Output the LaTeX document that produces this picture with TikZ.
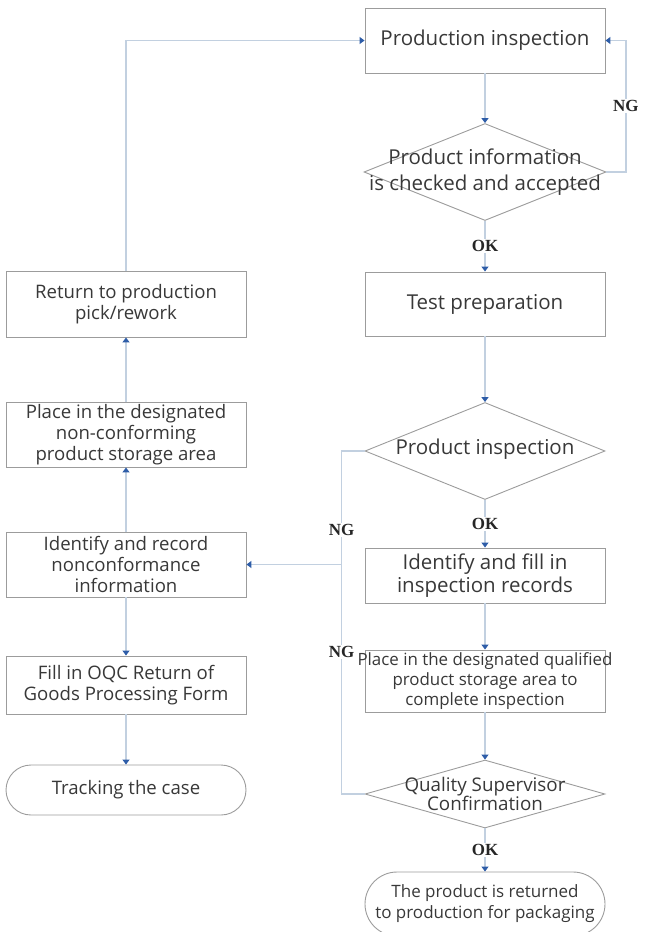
\documentclass[tikz,border=0pt]{standalone}
\usepackage{fontspec}
\setmainfont{Open Sans}
\newfontfamily\tagfont{Liberation Serif}
\usetikzlibrary{arrows.meta,shapes.geometric,shapes.misc,calc,positioning}
\definecolor{linkblue}{HTML}{C2D0E0}
\definecolor{tipblue}{HTML}{2E5DA8}
\definecolor{boxgray}{HTML}{9C9C9C}
\definecolor{txtgray}{HTML}{383838}

\begin{document}
\begin{tikzpicture}[
      box/.style={draw=boxgray,line width=0.9pt,rectangle,minimum width=240pt,text=txtgray,align=center,inner sep=0pt},
      dia/.style={draw=boxgray,line width=0.9pt,diamond,minimum width=242pt,inner sep=0pt},
      term/.style={draw=boxgray,line width=0.9pt,rounded rectangle,minimum width=240pt,text=txtgray,align=center,inner sep=0pt},
      big/.style={font=\fontsize{20.5}{22.5}\selectfont},
      small/.style={font=\fontsize{18.6}{21}\selectfont},
      link/.style={draw=linkblue,line width=1.4pt},
      arr/.style={-{Triangle[length=5pt,width=7pt,color=tipblue]}},
      tag/.style={fill=white,inner sep=1.5pt,text=black!85,font=\tagfont\bfseries\fontsize{17}{19}\selectfont}]
    \useasboundingbox (0,0) rectangle (645pt,-932pt);

    % right column
    \node[box,big,minimum height=65pt] (pi) at (485pt,-40.5pt) {Production inspection};
    \node[dia,minimum height=97pt,below of=pi,node distance=131.5pt,
          label={[name=d1t,text=txtgray,align=center,font=\fontsize{20.5}{26}\selectfont]center:Product information\\is checked and accepted}] (d1) {};
    \node[box,big,minimum height=64pt,below of=d1,node distance=132pt] (tp) {Test preparation};
    \node[dia,minimum height=97pt,minimum width=240pt,below of=tp,node distance=147pt,
          label={[name=d2t,text=txtgray,font=\fontsize{20.5}{23}\selectfont,yshift=2pt]center:Product inspection}] (d2) {};
    \node[box,big,minimum height=55pt,below of=d2,node distance=124.5pt] (idf) {Identify and fill in\\inspection records};
    \node[box,minimum height=62pt,below of=idf,node distance=105.5pt,
          label={[name=pqt,text=txtgray,align=center,font=\fontsize{16.9}{20}\selectfont]center:Place in the designated qualified\\product storage area to\\complete inspection}] (pq) {};
    \node[dia,minimum height=68pt,minimum width=240pt,below of=pq,node distance=113pt,
          label={[name=d3t,text=txtgray,align=center,font=\fontsize{18.8}{19.5}\selectfont]center:Quality Supervisor\\Confirmation}] (d3) {};
    \node[term,font=\fontsize{17}{21}\selectfont,minimum height=64pt,below of=d3,node distance=110pt] (en) {The product is returned\\to production for packaging};

    % left column
    \node[box,small,minimum height=66pt,left of=tp,node distance=359pt] (rp) {Return to production\\pick/rework};
    \node[box,small,minimum height=65pt,below of=rp,node distance=130.5pt] (pn) {Place in the designated\\non-conforming\\product storage area};
    \node[box,small,minimum height=65pt,below of=pn,node distance=130pt] (ir) {Identify and record\\nonconformance\\information};
    \node[box,small,minimum height=58pt,below of=ir,node distance=120.5pt] (fo) {Fill in OQC Return of\\Goods Processing Form};
    \node[term,small,minimum height=50pt,below of=fo,node distance=105pt] (tc) {Tracking the case};

    % main flow
    \draw[link,arr] (pi) -- (d1);
    \draw[link,arr] (d1.east) -- ++(19.5pt,0) |- node[tag,pos=0.25] (ng1) {NG} (pi.east);
    \draw[link,arr] (d1) -- node[tag] (ok1) {OK} (tp);
    \draw[link,arr] (tp) -- (d2);
    \draw[link,arr] (d2) -- node[tag] (ok2) {OK} (idf);
    \draw[link,arr] (idf) -- (pq);
    \draw[link,arr] (pq) -- (d3);
    \draw[link,arr] (d3) -- node[tag] (ok3) {OK} (en);

    % NG branch
    \draw[link] (d2.west) -- ++(-23pt,0) coordinate (ngx) |- (d3.west);
    \draw[link,arr] (ngx |- ir.east) -- (ir.east);
    \node[tag] (ng2) at ($(ngx)+(0,-79pt)$) {NG};
    \node[tag] (ng3) at ($(ngx)+(0,-201pt)$) {NG};

    % left column
    \draw[link,arr] (ir) -- (pn);
    \draw[link,arr] (pn) -- (rp);
    \draw[link,arr] (ir) -- (fo);
    \draw[link,arr] (fo) -- (tc);
    \draw[link,arr] (rp.north) |- (pi.west);

\end{tikzpicture}
\end{document}
